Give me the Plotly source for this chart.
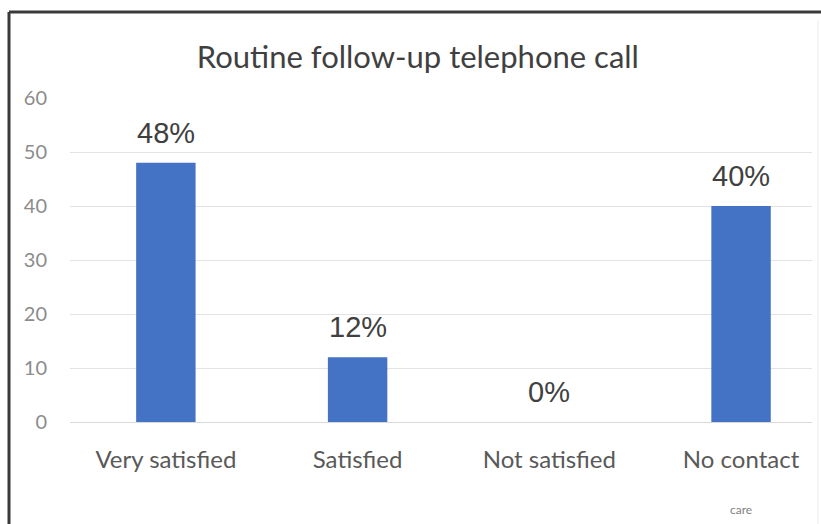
import plotly.graph_objects as go

categories = ["Very satisfied", "Satisfied", "Not satisfied", "No contact"]
values = [48, 12, 0, 40]
labels = ["48%", "12%", "0%", "40%"]
y_ticks = [0, 10, 20, 30, 40, 50, 60]
title_text = "Routine follow-up telephone call"
note_text = "care"

W, H = 821, 524
ml, mr, mt, mb = 70, 9, 98, 102
pw, ph = W - ml - mr, H - mt - mb

fig = go.Figure()
fig.add_trace(go.Bar(
    x=categories, y=values, marker=dict(color="#4472C4", line=dict(width=0)),
    width=0.31, hoverinfo="skip"))

for c, v, t in zip(categories, values, labels):
    fig.add_annotation(x=c, y=v, text=t, showarrow=False, yanchor="bottom",
                       yshift=12, font=dict(family="Liberation Sans", size=29, color="#404040"))

fig.add_annotation(x=categories[3], y=(H - mb - 509) / ph, yref="paper",
                   text=note_text, showarrow=False, yanchor="middle",
                   font=dict(family="Lato", size=12, color="#7f7f7f"))

# frame lines (left and top) and faint inner right edge
x0 = (9 - ml) / pw
ytop = (H - mb - 12) / ph
fig.add_shape(type="line", xref="paper", yref="paper", x0=x0, x1=x0, y0=ytop, y1=-mb / ph - 0.01,
              line=dict(color="#3a3a3a", width=3))
fig.add_shape(type="line", xref="paper", yref="paper", x0=x0, x1=(W - ml) / pw + 0.01, y0=ytop, y1=ytop,
              line=dict(color="#3a3a3a", width=3))
xr = (818 - ml) / pw
fig.add_shape(type="line", xref="paper", yref="paper", x0=xr, x1=xr, y0=(H - mb - 20) / ph, y1=-mb / ph,
              line=dict(color="#EDEDED", width=1))

fig.update_layout(
    width=W, height=H,
    margin=dict(l=ml, r=mr, t=mt, b=mb),
    paper_bgcolor="white", plot_bgcolor="white",
    showlegend=False,
    title=dict(text=title_text, x=0.509, xanchor="center", y=(H - 57) / H, yanchor="middle",
               font=dict(family="Lato", size=31, color="#404040")),
    xaxis=dict(range=[-0.5, 3.37], showgrid=False, showline=False, zeroline=False,
               ticks="", tickfont=dict(family="Lato", size=24, color="#595959"),
               ticklabelstandoff=21),
    yaxis=dict(range=[0, 60], tickvals=y_ticks, showgrid=True, gridcolor="#E3E3E3", gridwidth=1,
               zeroline=True, zerolinecolor="#D9D9D9", zerolinewidth=1, showline=False,
               tickfont=dict(family="Lato", size=20, color="#8c8c8c"), ticklabelstandoff=22),
)

fig.write_html("out.html", config={"displayModeBar": False},
               post_script="document.body.style.margin='0';")
